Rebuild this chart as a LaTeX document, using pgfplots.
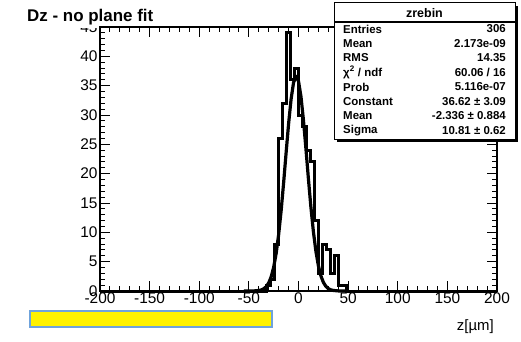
\documentclass[border=0pt]{standalone}
\usepackage{pgfplots}
\pgfplotsset{compat=1.18}
\usepackage{fontspec}
\setmainfont{Liberation Sans}
\begin{document}
\begin{tikzpicture}[x=1bp,y=1bp]
\useasboundingbox (0,0) rectangle (521,341);
\begin{axis}[
  at={(100bp,50bp)}, anchor=south west,
  width=397bp, height=264bp, scale only axis,
  xmin=-200, xmax=200, ymin=0, ymax=45,
  xtick={-200,-150,-100,-50,0,50,100,150,200},
  xticklabels={-200,-150,-100,-50,0,50,100,150,200},
  ytick={0,5,10,15,20,25,30,35,40,45},
  yticklabels={0,5,10,15,20,25,30,35,40,45},
  minor x tick num=4, minor y tick num=4,
  tick align=inside,
  major tick length=10bp, minor tick length=5bp,
  axis line style={line width=1.2bp},
  every tick/.style={black, line width=1bp},
  tick label style={font=\fontsize{15.5}{15.5}\selectfont},
  xticklabel style={yshift=1.5bp},
  yticklabel style={xshift=1bp},
  clip=false,
]
\addplot[const plot mark left, line width=3bp, black, line join=miter] coordinates {
(-200,0) (-32,1) (-28,2) (-24,8) (-20,26) (-16,32) (-12,44) (-8,36) (-4,38)
(0,30) (4,28) (8,24) (12,22) (16,12) (20,3) (24,8) (28,7) (32,3) (36,6)
(40,1) (44,1) (48,0) (200,0)};
\addplot[line width=3.2bp, black, line join=round] coordinates {
(-55,0.0003) (-50,0.002) (-45,0.015) (-40,0.085) (-37.5,0.185) (-35,0.381) (-32.5,0.746)
(-30,1.385) (-27.5,2.439) (-25,4.066) (-22.5,6.430) (-20,9.64) (-17.5,13.69)
(-15,18.44) (-12.5,23.54) (-10,28.48) (-7.5,32.67) (-5,35.53) (-2.5,36.62)
(0,35.77) (2.5,33.13) (5,29.09) (7.5,24.21) (10,19.09) (12.5,14.28) (15,10.12)
(17.5,6.80) (20,4.33) (22.5,2.615) (25,1.496) (27.5,0.812) (30,0.418)
(32.5,0.204) (35,0.094) (40,0.017) (45,0.0025) (50,0.0003)};
\end{axis}
% title (its box hides the top of the 45 label)
\fill[white] (20,315.5) rectangle (165,341);
\fill[white] (60,313) rectangle (98.5,341);
\node[anchor=base west, inner sep=0pt] at (27,320) {\fontsize{17}{17}\selectfont\bfseries Dz - no plane fit};
% stats box
\fill[black] (337,199) rectangle (518,335);
\filldraw[fill=white, draw=black, line width=1bp] (334,202) rectangle (515,338);
\draw[line width=1bp] (334,319) -- (515,319);
\node[anchor=center] at (424.5,328) {\fontsize{12.5}{12.5}\selectfont\bfseries zrebin};
\begin{scope}[every node/.style={inner sep=0pt, font=\fontsize{11.5}{11.5}\selectfont\bfseries}]
\node[anchor=west] at (343,312) {Entries};   \node[anchor=east] at (506,312) {306};
\node[anchor=west] at (343,297.5) {Mean};    \node[anchor=east] at (506,297.5) {2.173e-09};
\node[anchor=west] at (343,283) {RMS};       \node[anchor=east] at (506,283) {14.35};
\node[anchor=west] at (343,268.5) {χ\textsuperscript{2} / ndf}; \node[anchor=east] at (506,268.5) {60.06 / 16};
\node[anchor=west] at (343,254) {Prob};      \node[anchor=east] at (506,254) {5.116e-07};
\node[anchor=west] at (343,239.5) {Constant};\node[anchor=east] at (506,239.5) {36.62 ± 3.09};
\node[anchor=west] at (343,225) {Mean};      \node[anchor=east] at (506,225) {-2.336 ± 0.884};
\node[anchor=west] at (343,210.5) {Sigma};   \node[anchor=east] at (506,210.5) {10.81 ± 0.62};
\end{scope}
% x label
\node[anchor=east, inner sep=0pt] at (494,14) {\fontsize{15}{15}\selectfont z[µm]};
% yellow box
\definecolor{boxblue}{HTML}{6FA3DC}
\filldraw[fill=yellow, draw=boxblue, line width=1.5bp] (30,14) rectangle (272,30);
\end{tikzpicture}
\end{document}
